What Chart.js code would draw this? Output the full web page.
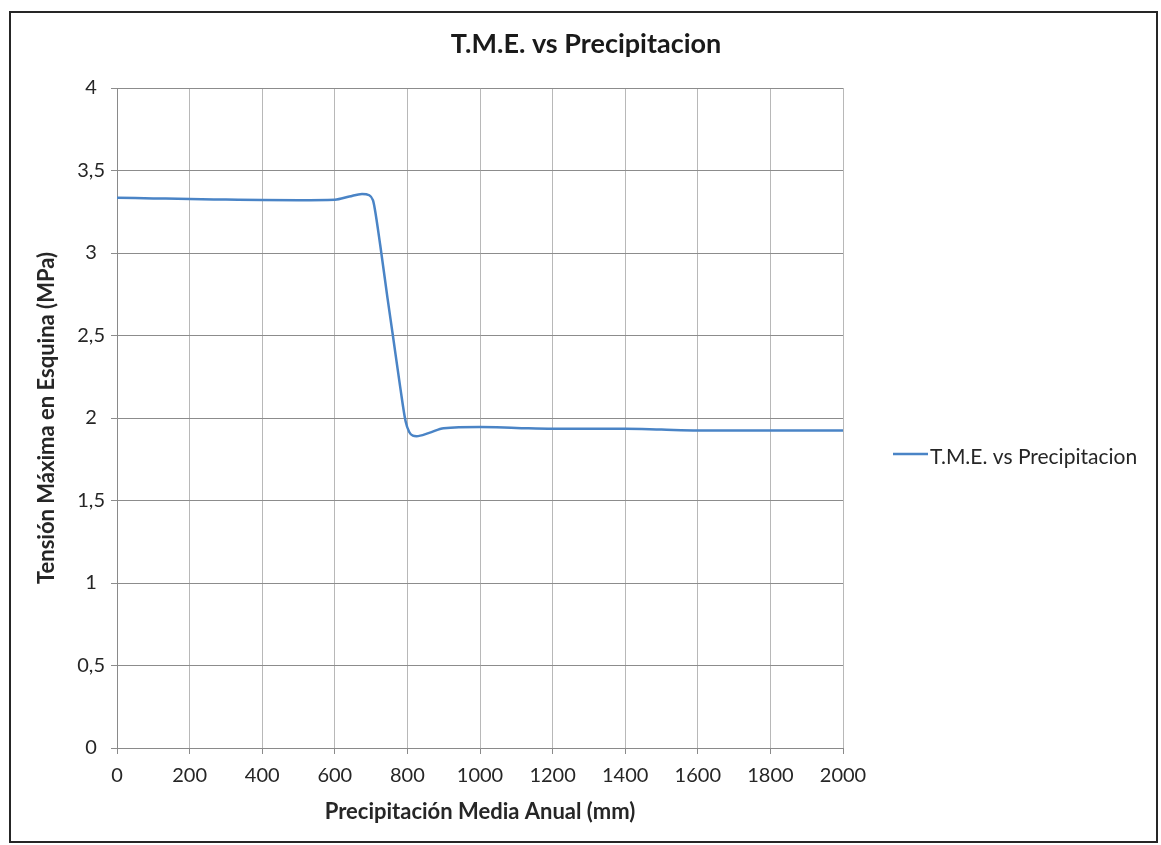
<!DOCTYPE html>
<html>
<head>
<meta charset="utf-8">
<script src="https://cdn.jsdelivr.net/npm/chart.js@4.4.1/dist/chart.umd.min.js"></script>
<style>
  html, body { margin: 0; padding: 0; background: #ffffff; }
  #wrap { position: relative; width: 1161px; height: 845px; }
</style>
</head>
<body>
<div id="wrap"><canvas id="chart" width="1161" height="845"></canvas></div>
<script>
// Precipitación media anual (mm) y tensión máxima en esquina (MPa)
const precipitacion = [0, 100, 200, 300, 400, 500, 600, 640, 675, 695, 705, 710, 725, 745, 760, 780, 795, 805, 815, 825, 860, 900, 1000, 1100, 1200, 1300, 1400, 1500, 1600, 1700, 1800, 1900, 2000];
const tensionEsquina = [3.335, 3.331, 3.327, 3.324, 3.321, 3.320, 3.323, 3.342, 3.358, 3.350, 3.320, 3.270, 3.050, 2.730, 2.500, 2.190, 1.980, 1.915, 1.893, 1.890, 1.910, 1.938, 1.945, 1.940, 1.935, 1.935, 1.935, 1.930, 1.925, 1.925, 1.925, 1.925, 1.925];

const xTickValues = [0, 200, 400, 600, 800, 1000, 1200, 1400, 1600, 1800, 2000];
const yTickValues = [0, 0.5, 1, 1.5, 2, 2.5, 3, 3.5, 4];
const yTickLabels = ['0', '0,5', '1', '1,5', '2', '2,5', '3', '3,5', '4'];

const chartTitle = 'T.M.E. vs Precipitacion';
const seriesName = 'T.M.E. vs Precipitacion';
const xAxisTitle = 'Precipitación Media Anual (mm)';
const yAxisTitle = 'Tensión Máxima en Esquina (MPa)';

const FONT = 'Lato, "Open Sans", "Noto Sans", sans-serif';
const TEXT = '#262626';
const LINE = '#4a84c6';

// Outer frame, centred heading and a compact legend entry right of the plot
const decorPlugin = {
  id: 'frameTitleLegend',
  beforeDraw(chart) {
    const ctx = chart.ctx;
    ctx.save();
    ctx.fillStyle = '#ffffff';
    ctx.fillRect(0, 0, chart.width, chart.height);
    ctx.restore();
  },
  afterDraw(chart) {
    const ctx = chart.ctx;
    ctx.save();
    ctx.strokeStyle = '#262626';
    ctx.lineWidth = 2;
    ctx.strokeRect(10, 12, 1147, 830);

    ctx.fillStyle = '#1a1a1a';
    ctx.font = 'bold 27px ' + FONT;
    ctx.textAlign = 'center';
    ctx.textBaseline = 'alphabetic';
    ctx.fillText(chartTitle, 586, 53);

    const ds = chart.data.datasets[0];
    const ly = 454;
    ctx.strokeStyle = ds.borderColor;
    ctx.lineWidth = 2.5;
    ctx.beginPath();
    ctx.moveTo(893, ly);
    ctx.lineTo(928, ly);
    ctx.stroke();

    ctx.fillStyle = TEXT;
    ctx.font = '21px ' + FONT;
    ctx.textAlign = 'left';
    ctx.fillText(ds.label, 930, 464);
    ctx.restore();
  }
};

new Chart(document.getElementById('chart'), {
  type: 'line',
  data: {
    datasets: [{
      label: seriesName,
      data: precipitacion.map((x, i) => ({ x: x, y: tensionEsquina[i] })),
      borderColor: LINE,
      borderWidth: 2.5,
      pointRadius: 0,
      fill: false,
      cubicInterpolationMode: 'monotone'
    }]
  },
  options: {
    responsive: false,
    animation: false,
    devicePixelRatio: 1,
    layout: { padding: { left: 20, right: 318, top: 88, bottom: 8 } },
    plugins: {
      legend: { display: false },
      tooltip: { enabled: false },
      title: { display: false }
    },
    scales: {
      x: {
        type: 'linear',
        min: 0,
        max: 2000,
        afterBuildTicks(scale) { scale.ticks = xTickValues.map(v => ({ value: v })); },
        afterFit(scale) { scale.height = 89; },
        ticks: {
          color: TEXT,
          font: { family: FONT, size: 20 },
          padding: 10,
          maxRotation: 0,
          callback: (v) => String(v)
        },
        grid: { color: '#b8b8b8', lineWidth: 1, tickLength: 6, tickColor: '#8a8a8a' },
        border: { color: '#8a8a8a', width: 1 },
        title: {
          display: true,
          text: xAxisTitle,
          color: TEXT,
          font: { family: FONT, size: 22, weight: 'bold' },
          padding: { top: 4, bottom: 12 }
        }
      },
      y: {
        type: 'linear',
        min: 0,
        max: 4,
        afterBuildTicks(scale) { scale.ticks = yTickValues.map(v => ({ value: v })); },
        afterFit(scale) { scale.width = 97; },
        ticks: {
          color: TEXT,
          font: { family: FONT, size: 20 },
          padding: 6,
          crossAlign: 'center',
          callback: (v) => yTickLabels[yTickValues.indexOf(v)]
        },
        grid: { color: '#8c8c8c', lineWidth: 1, tickLength: 6, tickColor: '#8c8c8c' },
        border: { color: '#8a8a8a', width: 1 },
        title: {
          display: true,
          text: yAxisTitle,
          color: TEXT,
          font: { family: FONT, size: 22, weight: 'bold' },
          padding: { top: 14, bottom: 4 }
        }
      }
    }
  },
  plugins: [decorPlugin]
});
</script>
</body>
</html>
